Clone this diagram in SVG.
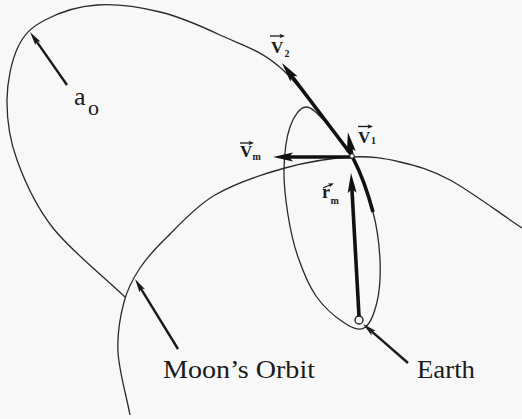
<svg xmlns="http://www.w3.org/2000/svg" width="522" height="419" viewBox="0 0 522 419">
  <defs>
    <style>
      .orbit { fill: none; stroke: #2a2a2a; stroke-width: 1.3; }
      .vec { fill: none; stroke: #111; stroke-width: 3.6; stroke-linecap: butt; }
      .ptr { fill: none; stroke: #1a1a1a; stroke-width: 2.4; }
      .over { fill: none; stroke: #1a1a1a; stroke-width: 1.3; }
      .lbl { font-family: "Liberation Serif", "Times New Roman", serif; fill: #1a1a1a; }
      .vl { font-weight: bold; font-size: 17px; }
      .sub { font-weight: bold; font-size: 10px; }
      .big { font-size: 25px; }
    </style>
    <marker id="head" viewBox="-12 -6 24 12" markerWidth="24" markerHeight="12" refX="0" refY="0" orient="auto" markerUnits="userSpaceOnUse" overflow="visible">
      <path d="M10,0 L-10,-4.5 L-6,0 L-10,4.5 Z" fill="#111"/>
    </marker>
    <marker id="phead" viewBox="-8 -4 16 8" markerWidth="16" markerHeight="8" refX="0" refY="0" orient="auto" markerUnits="userSpaceOnUse" overflow="visible">
      <path d="M8,0 L-6,-3.2 L-3,0 L-6,3.2 Z" fill="#1a1a1a"/>
    </marker>
    <marker id="shead" viewBox="-4 -3 8 6" markerWidth="8" markerHeight="6" refX="0" refY="0" orient="auto" markerUnits="userSpaceOnUse" overflow="visible">
      <path d="M3,0 L-2.5,-2.2 L-1.2,0 L-2.5,2.2 Z" fill="#1a1a1a"/>
    </marker>
  </defs>
  <rect x="0" y="0" width="522" height="419" fill="#f8f8f8"/>

  <g id="transfer-orbit">
    <path class="orbit" d="M125,297 C101,274 71,250.8 53,228 C35,205.2 24.7,181.3 17,160 C9.3,138.7 6.8,118.8 7,100 C7.2,81.2 11.7,60.3 18,47 C24.3,33.7 31.8,27 45,20 C58.2,13 77.8,6.3 97,5 C116.2,3.7 139.5,7 160,12 C180.5,17 199.5,25.3 220,35 C240.5,44.7 260.8,49.5 283,70 C305.2,90.5 329.7,128.7 353,158"/>
  </g>

  <g id="parking-orbit">
    <path class="orbit" d="M306,107 C312.3,106.7 320.2,116.5 328,125 C335.8,133.5 345.5,143.5 353,158 C360.5,172.5 368.5,195 373,212 C377.5,229 379.3,245 380,260 C380.7,275 379.7,290.7 377,302 C374.3,313.3 369.7,324.7 364,328 C358.3,331.3 351,327.3 343,322 C335,316.7 323.5,306.8 316,296 C308.5,285.2 302.7,270.5 298,257 C293.3,243.5 290.3,229.5 288,215 C285.7,200.5 283.7,184.7 284,170 C284.3,155.3 286.3,137.5 290,127 C293.7,116.5 299.7,107.3 306,107 Z"/>
  </g>

  <g id="moon-orbit">
    <path class="orbit" d="M130,415 C126,394 119,370.8 118,352 C117,333.2 120.3,316 124,302 C127.7,288 132.8,278.8 140,268 C147.2,257.2 154.5,249.2 167,237 C179.5,224.8 195.3,206.5 215,195 C234.7,183.5 262.2,174.3 285,168 C307.8,161.7 332.8,158 352,157 C371.2,156 383.7,158.2 400,162 C416.3,165.8 429.7,169 450,180 C470.3,191 498,212 522,228"/>
  </g>

  <g id="earth">
    <circle cx="359" cy="320" r="4" fill="#fafafa" stroke="#1a1a1a" stroke-width="1.3"/>
  </g>

  <g id="connectors">
    <path class="vec" d="M353,158 C360.5,172.5 368.5,195 373,212"/>
    <line class="vec" x1="353" y1="157" x2="288" y2="71" marker-end="url(#head)"/>
    <line class="vec" x1="352" y1="156" x2="349.6" y2="142" marker-end="url(#head)"/>
    <line class="vec" x1="359" y1="316" x2="351.6" y2="183" marker-end="url(#head)"/>
    <line class="vec" x1="352" y1="157" x2="283" y2="157" marker-end="url(#head)"/>
    <line class="ptr" x1="67" y1="85" x2="34.6" y2="38.6" marker-end="url(#phead)"/>
    <line class="ptr" x1="178" y1="349" x2="139.2" y2="285.8" marker-end="url(#phead)"/>
    <line class="ptr" x1="408" y1="363" x2="369.1" y2="329.2" marker-end="url(#phead)"/>
  </g>

  <g id="spacecraft-point">
    <circle cx="352" cy="156" r="2.3" fill="#fafafa" stroke="#111" stroke-width="1"/>
  </g>

  <g id="label-v2">
    <line class="over" x1="270" y1="36" x2="282" y2="36" marker-end="url(#shead)"/>
    <text class="lbl vl" x="271" y="53">V</text>
    <text class="lbl sub" x="284.5" y="57">2</text>
  </g>
  <g id="label-v1">
    <line class="over" x1="358" y1="126.5" x2="370" y2="126.5" marker-end="url(#shead)"/>
    <text class="lbl vl" x="358" y="142.5">V</text>
    <text class="lbl sub" x="371" y="144">1</text>
  </g>
  <g id="label-vm">
    <line class="over" x1="240" y1="143" x2="251" y2="143" marker-end="url(#shead)"/>
    <text class="lbl vl" x="240" y="156.5">V</text>
    <text class="lbl sub" x="252.5" y="160" font-size="11">m</text>
  </g>
  <g id="label-rm">
    <line class="over" x1="323" y1="188" x2="331" y2="184.5" marker-end="url(#shead)"/>
    <text class="lbl" x="322" y="198" font-size="18" font-weight="bold">r</text>
    <text class="lbl sub" x="330.5" y="204">m</text>
  </g>
  <g id="label-ao">
    <text class="lbl" x="74" y="105" font-size="26">a</text>
    <text class="lbl" x="88" y="115" font-size="22">o</text>
  </g>
  <g id="label-moon-orbit">
    <text class="lbl big" x="163" y="378" textLength="152" lengthAdjust="spacingAndGlyphs">Moon’s Orbit</text>
  </g>
  <g id="label-earth">
    <text class="lbl big" x="417" y="378" textLength="58" lengthAdjust="spacingAndGlyphs">Earth</text>
  </g>
</svg>
